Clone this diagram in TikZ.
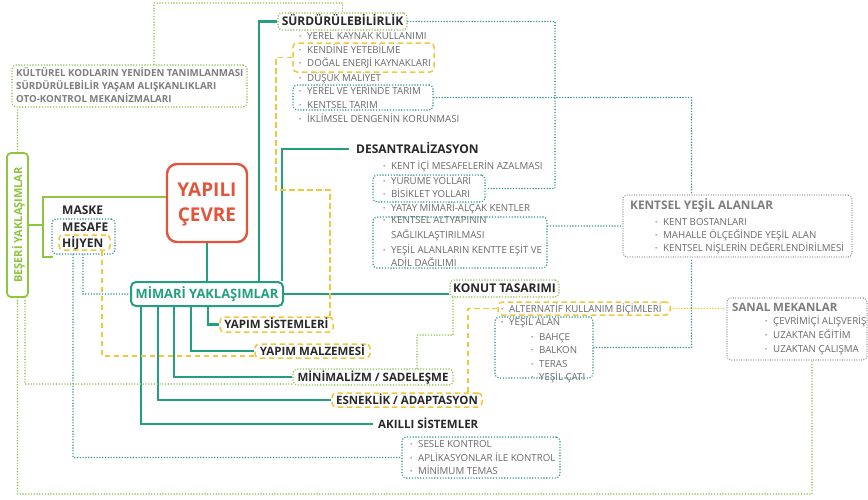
\documentclass[tikz,border=0pt]{standalone}
\usepackage{fontspec}
\setmainfont{Open Sans}
\usetikzlibrary{calc}
\definecolor{tealc}{RGB}{35,158,128}
\definecolor{tdotc}{RGB}{55,150,148}
\definecolor{redc}{RGB}{226,85,60}
\definecolor{grn}{RGB}{141,198,63}
\definecolor{gdotc}{RGB}{145,192,75}
\definecolor{yel}{RGB}{240,200,60}
\definecolor{kdotc}{RGB}{135,135,135}
\definecolor{tdark}{RGB}{40,40,40}
\definecolor{tgray}{RGB}{105,105,105}
\definecolor{kgray}{RGB}{125,125,125}
\newcommand\fs[1]{\fontsize{#1}{#1}\selectfont}
\newcommand\bu{\makebox[8pt][l]{\raisebox{0.8pt}{\fs{6}•}}}
\tikzset{
  bx/.style={inner sep=0pt, rounded corners=4pt, line width=1.6pt},
  gdot/.style={bx, draw=gdotc, dash pattern=on 0pt off 2.8pt, line cap=round},
  tdot/.style={bx, draw=tdotc, dash pattern=on 0pt off 2.8pt, line cap=round},
  kdot/.style={bx, draw=kdotc, line width=1.3pt, dash pattern=on 0pt off 2.4pt, line cap=round},
  ydash/.style={bx, draw=yel, line width=1.5pt, dash pattern=on 5.5pt off 3.5pt},
  hd/.style={inner sep=0pt, font=\bfseries\fs{12}, text=tdark, text height=8.5pt, text depth=0pt},
  ch/.style={hd, font=\bfseries\fs{11.5}},
  li/.style={inner sep=0pt, anchor=west, font=\fs{9.7}, text=tgray, text height=7pt, text depth=0pt},
  kt/.style={inner sep=0pt, anchor=west, font=\bfseries\fs{9.7}, text=kgray, text height=7pt, text depth=0pt},
  gt/.style={inner sep=0pt, anchor=west, font=\bfseries\fs{11.8}, text=kgray, text height=8.5pt, text depth=0pt},
  tline/.style={draw=tealc, line width=2.4pt},
  gline/.style={draw=grn, line width=2pt},
  tcon/.style={draw=tdotc, line width=1.6pt, dash pattern=on 0pt off 2.8pt, line cap=round},
  gcon/.style={draw=gdotc, line width=1.6pt, dash pattern=on 0pt off 2.8pt, line cap=round},
  ycon/.style={draw=yel, line width=1.4pt, dash pattern=on 5.5pt off 3.5pt},
  ydcon/.style={draw=yel, line width=1.6pt, dash pattern=on 0pt off 2.8pt, line cap=round},
}
\begin{document}
\begin{tikzpicture}[x=1pt,y=-1pt]
\fill[white] (0,0) rectangle (868,499);
\useasboundingbox (0,0) rectangle (868,499);

% ---------- Kulturel box
\node[gdot, minimum width=235pt, minimum height=42pt] (kult) at (129.5,86) {};
\node[kt] (k1) at (16,73) {KÜLTÜREL KODLARIN YENİDEN TANIMLANMASI};
\node[kt] (k2) at (16,86) {SÜRDÜRÜLEBİLİR YAŞAM ALIŞKANLIKLARI};
\node[kt] (k3) at (16,99) {OTO-KONTROL MEKANİZMALARI};

% ---------- Surdurulebilirlik
\node[gdot, hd, minimum width=129pt, minimum height=17pt] (surd) at (342.5,21.5) {SÜRDÜRÜLEBİLİRLİK};
\node[li] (s1) at (299,36) {\bu YEREL KAYNAK KULLANIMI};
\node[li] (s2) at (299,50) {\bu KENDİNE YETEBİLME};
\node[li] (s3) at (299,63) {\bu DOĞAL ENERJİ KAYNAKLARI};
\node[li] (s4) at (299,78) {\bu DÜŞÜK MALİYET};
\node[li] (s5) at (299,91) {\bu YEREL VE YERİNDE TARIM};
\node[li] (s6) at (299,105) {\bu KENTSEL TARIM};
\node[li] (s7) at (299,119) {\bu İKLİMSEL DENGENİN KORUNMASI};
\node[ydash, minimum width=141pt, minimum height=29pt] (kendine) at (363.5,57.5) {};
\node[tdot, minimum width=140pt, minimum height=25pt] (yerel) at (363,97.5) {};

% ---------- Desantralizasyon
\node[hd, anchor=west] (desant) at (356,149) {DESANTRALİZASYON};
\node[li] (d1) at (383,166) {\bu KENT İÇİ MESAFELERİN AZALMASI};
\node[li] (d2) at (383,181) {\bu YÜRÜME YOLLARI};
\node[li] (d3) at (383,194) {\bu BİSİKLET YOLLARI};
\node[li] (d4) at (383,208) {\bu YATAY MİMARİ-ALÇAK KENTLER};
\node[li] (d5) at (383,220) {\bu KENTSEL ALTYAPININ};
\node[li] (d6) at (391,235) {SAĞLIKLAŞTIRILMASI};
\node[li] (d7) at (383,250) {\bu YEŞİL ALANLARIN KENTTE EŞİT VE};
\node[li] (d8) at (391,263) {ADİL DAĞILIMI};
\node[tdot, minimum width=112pt, minimum height=27pt] (yuru) at (429,188.5) {};
\node[tdot, minimum width=174pt, minimum height=51pt] (altyapi) at (460,242.5) {};

% ---------- Kentsel yesil alanlar
\node[kdot, minimum width=229pt, minimum height=62pt] (kyesil) at (737.5,226) {};
\node[gt] (ky0) at (630,205) {KENTSEL YEŞİL ALANLAR};
\node[li] (ky1) at (655,222) {\bu KENT BOSTANLARI};
\node[li] (ky2) at (655,235) {\bu MAHALLE ÖLÇEĞİNDE YEŞİL ALAN};
\node[li] (ky3) at (655,248) {\bu KENTSEL NİŞLERİN DEĞERLENDİRİLMESİ};

% ---------- Yapili cevre
\node[draw=redc, line width=2.4pt, rounded corners=10pt, minimum width=80pt, minimum height=78pt, inner sep=0pt] (yapili) at (207,203) {};
\node[inner sep=0pt, font=\bfseries\fs{19}, text=redc, text height=13.5pt, text depth=0pt] (yp1) at (207,190) {YAPILI};
\node[inner sep=0pt, font=\bfseries\fs{19}, text=redc, text height=13.5pt, text depth=0pt] (yp2) at (207,215) {ÇEVRE};

% ---------- Beseri
\node[draw=grn, line width=1.8pt, rounded corners=4pt, minimum width=21pt, minimum height=144pt, inner sep=0pt] (beseri) at (17.5,225) {};
\node[rotate=90, inner sep=0pt, font=\bfseries\fs{11}, text=grn, text height=8pt, text depth=0pt] (bst) at (18,225) {BEŞERİ YAKLAŞIMLAR};
\node[hd, anchor=west] (maske) at (62,210) {MASKE};
\node[hd, anchor=west] (mes) at (62,227) {MESAFE};
\node[hd, anchor=west] (hij) at (62,243) {HİJYEN};
\node[tdot, minimum width=63pt, minimum height=35pt] (mesafe) at (83.5,236.5) {};
\node[ydash, minimum width=51pt, minimum height=15pt] (hijyen) at (84.5,242.5) {};

% ---------- Mimari
\node[bx, draw=tealc, line width=2pt, rounded corners=5pt, minimum width=152pt, minimum height=24pt, font=\bfseries\fs{12.9}, text=tealc, text height=9pt, text depth=0pt] (mimari) at (207,294) {MİMARİ YAKLAŞIMLAR};

% ---------- Konut
\node[gdot, hd, minimum width=109pt, minimum height=17pt] (konut) at (504.5,288.5) {KONUT TASARIMI};
\node[ydash, minimum width=172pt, minimum height=13pt] (alt) at (584,308.5) {};
\node[li] (al) at (501,309) {\bu ALTERNATİF KULLANIM BİÇİMLERİ};
\node[li] (ya) at (501,322) {\bu YEŞİL ALAN};
\node[li] (ya1) at (531,337) {\bu BAHÇE};
\node[li] (ya2) at (531,350) {\bu BALKON};
\node[li] (ya3) at (531,364) {\bu TERAS};
\node[li] (ya4) at (531,377) {\bu YEŞİL ÇATI};
\node[tdot, minimum width=98pt, minimum height=61pt] (yesilalan) at (544,347.5) {};

% ---------- Sanal
\node[kdot, minimum width=140pt, minimum height=62pt] (sanal) at (797,329) {};
\node[gt, font=\bfseries\fs{11.5}] (sn0) at (732,307) {SANAL MEKANLAR};
\node[li] (sn1) at (765,321) {\bu ÇEVRİMİÇİ ALIŞVERİŞ};
\node[li] (sn2) at (765,335) {\bu UZAKTAN EĞİTİM};
\node[li] (sn3) at (765,349) {\bu UZAKTAN ÇALIŞMA};

% ---------- Mimari children
\node[ydash, ch, minimum width=113pt, minimum height=15pt] (ysist) at (276.5,324.5) {YAPIM SİSTEMLERİ};
\node[ydash, ch, minimum width=115pt, minimum height=14pt] (ymalz) at (312.5,351) {YAPIM MALZEMESİ};
\node[gdot, ch, minimum width=160pt, minimum height=16pt] (minim) at (373,377) {MİNİMALİZM / SADELEŞME};
\node[ydash, ch, minimum width=150pt, minimum height=14pt] (esnek) at (407,400) {ESNEKLİK / ADAPTASYON};
\node[ch, anchor=west] (akilli) at (378,424) {AKILLI SİSTEMLER};
\node[tdot, minimum width=158pt, minimum height=41pt] (akbox) at (481,457.5) {};
\node[li] (ak1) at (410,444) {\bu SESLE KONTROL};
\node[li] (ak2) at (410,458) {\bu APLİKASYONLAR İLE KONTROL};
\node[li] (ak3) at (410,471) {\bu MİNİMUM TEMAS};

% ---------- helper coordinates
\coordinate (tA) at (259,0);
\coordinate (tB) at (282,0);
\coordinate (tC) at (555,100);
\coordinate (tD) at (691.5,0);
\coordinate (tE) at (83,0);
\coordinate (tF) at (73,0);
\coordinate (gA) at (154,3);
\coordinate (gC) at (812,494);
\coordinate (gD) at (25,0);
\coordinate (gE) at (417,335);
\coordinate (gF) at (453,335);
\coordinate (yA) at (276,190);
\coordinate (yB) at (330,190);
\coordinate (yC) at (102,0);
\coordinate (yD) at (468,0);
\coordinate (brT) at (43,197);
\coordinate (brB) at (43,257);
\coordinate (brE) at (53,257);
\coordinate (m1) at (208,0);
\coordinate (m2) at (191,0);
\coordinate (m3) at (174,0);
\coordinate (m4) at (158,0);
\coordinate (m5) at (141,0);

% ---------- teal solid connectors
\draw[tline] (yapili.south) -- (mimari.north);
\draw[tline] (mimari.north -| tA) |- (surd.west);
\draw[tline] (mimari.north -| tB) |- ([xshift=-7pt]desant.west);
\draw[tline] (mimari.east) -- (mimari.east -| konut.west);
\draw[tline] (mimari.south -| m1) |- (ysist.west);
\draw[tline] (mimari.south -| m2) |- (ymalz.west);
\draw[tline] (mimari.south -| m3) |- (minim.west);
\draw[tline] (mimari.south -| m4) |- (esnek.west);
\draw[tline] (mimari.south -| m5) |- ([xshift=-5pt]akilli.west);

% ---------- green solid connectors
\draw[gline] (yapili.west |- brT) -- (brT) -- (brB) -- (brE);
\draw[gline] (beseri.east) -- (beseri.east -| brT);

% ---------- teal dotted connectors
\draw[tcon] (surd.east) -| (tC) |- (yuru.east);
\draw[tcon] (yerel.east) -| (tD |- kyesil.north);
\draw[tcon] (kyesil.west -| altyapi.east) -- (kyesil.west);
\draw[tcon] (yesilalan.east) -| (tD |- kyesil.south);
\draw[tcon] (mesafe.south -| tE) |- (mimari.west);
\draw[tcon] (mesafe.south -| tF) |- (akbox.west);

% ---------- green dotted connectors
\draw[gcon] (kult.north -| gA) -- (gA) -| (surd.north);
\draw[gcon] (beseri.north) -- (beseri.north |- kult.south);
\draw[gcon] (beseri.south) |- (gC) -- (gC |- sanal.south);
\draw[gcon] (beseri.south -| gD) |- ([yshift=-7pt]minim.west);
\draw[gcon] (minim.north -| gE) -- (gE) -- (gF) -- (gF |- konut.south);

% ---------- yellow connectors
\draw[ycon] (kendine.west) -| (yA) -- (yB) -- (yB |- ysist.north);
\draw[ycon] (hijyen.south -| yC) |- ([yshift=-5pt]ymalz.west);
\draw[ycon] (esnek.north -| yD) |- (alt.west);
\draw[ydcon] (alt.east) -- (alt.east -| sanal.west);
\end{tikzpicture}
\end{document}
